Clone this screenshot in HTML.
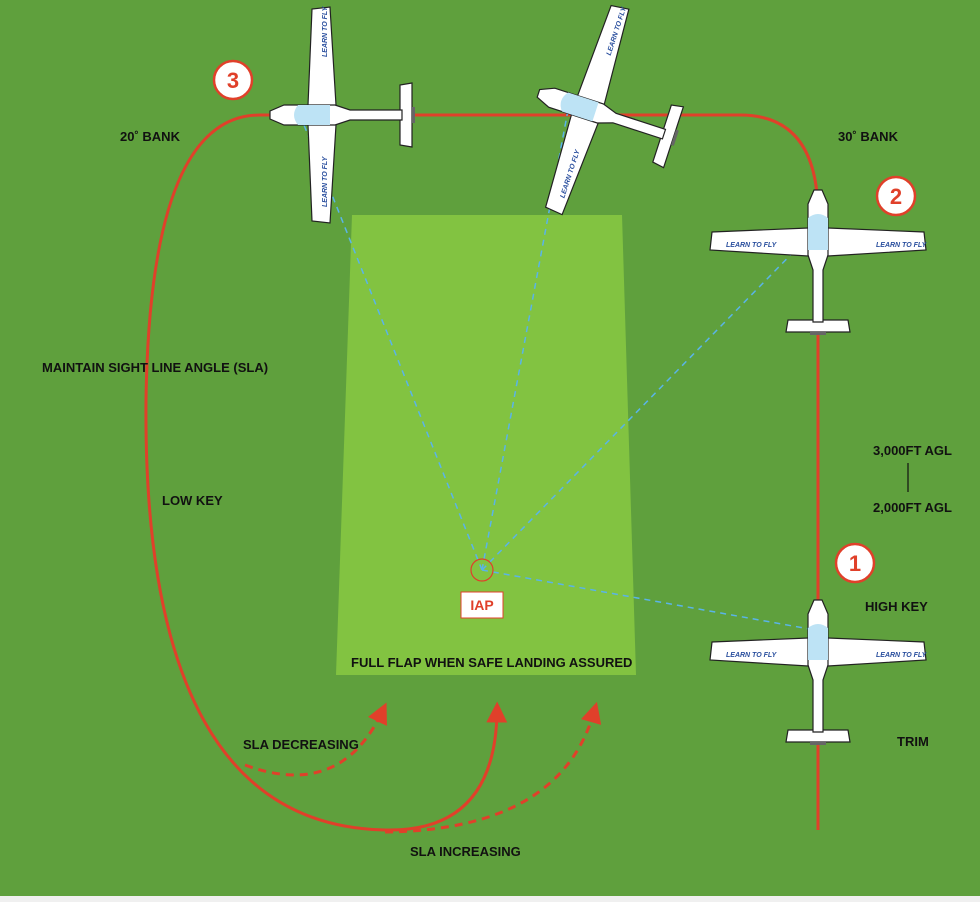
<!DOCTYPE html>
<html><head><style>
body{margin:0;background:#f0f0f0}
svg{display:block}
text{font-family:"Liberation Sans",sans-serif;font-weight:bold;font-size:13px;fill:#111}
</style></head><body>
<svg width="980" height="902" viewBox="0 0 980 902" xmlns="http://www.w3.org/2000/svg">
<defs>
<marker id="ah" markerWidth="7" markerHeight="7" refX="3.5" refY="3.5" orient="auto" markerUnits="strokeWidth">
<path d="M0,0 L7,3.5 L0,7 z" fill="#e0402a"/></marker>
<g id="plane">
<path d="M-106,-28 L-10,-32 L10,-32 L106,-28 L108,-10 L10,-4 L-10,-4 L-108,-10 Z" fill="#fff" stroke="#222" stroke-width="1.2"/>
<path d="M-30,60 L30,60 L32,72 L-32,72 Z" fill="#fff" stroke="#222" stroke-width="1.2"/>
<rect x="-8" y="72" width="16" height="3" fill="#666"/>
<path d="M-4,-70 L4,-70 L10,-56 L10,-5 L5,10 L5,62 L-5,62 L-5,10 L-10,-5 L-10,-56 Z" fill="#fff" stroke="#222" stroke-width="1.2"/>
<path d="M-10,-42 Q0,-50 10,-42 L10,-10 L-10,-10 Z" fill="#bde3f5"/>
<text x="-92" y="-13" style="font-size:7px;fill:#2a4f9e;font-style:italic">LEARN TO FLY</text>
<text x="58" y="-13" style="font-size:7px;fill:#2a4f9e;font-style:italic">LEARN TO FLY</text>
</g>
</defs>
<rect width="980" height="896" fill="#5fa03d"/>
<polygon points="352,215 622,215 636,675 336,675" fill="#82c341"/>
<g stroke="#e0402a" stroke-width="3" fill="none">
<path d="M818,830 L818,215 Q818,115 740,115 L260,115 Q150,115 146,400 Q142,830 390,830 Q495,830 497,712" marker-end="url(#ah)"/>
<path d="M245,765 Q340,800 382,712" stroke-dasharray="8,6" marker-end="url(#ah)"/>
<path d="M385,832 Q560,830 594,712" stroke-dasharray="8,6" marker-end="url(#ah)"/>
</g>
<g stroke="#5ab4e8" stroke-width="1.5" stroke-dasharray="6,5" fill="none">
<line x1="482" y1="570" x2="300" y2="115"/>
<line x1="482" y1="570" x2="568" y2="110"/>
<line x1="482" y1="570" x2="815" y2="230"/>
<line x1="482" y1="570" x2="815" y2="630"/>
</g>
<circle cx="482" cy="570" r="11" fill="none" stroke="#e0402a" stroke-width="1.2"/>
<rect x="461" y="592" width="42" height="26" fill="#fff" stroke="#e0402a"/>
<text x="482" y="610" text-anchor="middle" style="fill:#e0402a;font-size:14px">IAP</text>
<use href="#plane" transform="translate(818,260)"/>
<use href="#plane" transform="translate(818,670)"/>
<use href="#plane" transform="translate(340,115) rotate(-90)"/>
<use href="#plane" transform="translate(605,115) rotate(-72)"/>
<g fill="#fff" stroke="#e0402a" stroke-width="2.5">
<circle cx="233" cy="80" r="19"/><circle cx="896" cy="196" r="19"/><circle cx="855" cy="563" r="19"/>
</g>
<text x="233" y="88" text-anchor="middle" style="fill:#e0402a;font-size:22px">3</text>
<text x="896" y="204" text-anchor="middle" style="fill:#e0402a;font-size:22px">2</text>
<text x="855" y="571" text-anchor="middle" style="fill:#e0402a;font-size:22px">1</text>
<text x="120" y="141">20˚ BANK</text>
<text x="838" y="141">30˚ BANK</text>
<text x="42" y="372">MAINTAIN SIGHT LINE ANGLE (SLA)</text>
<text x="162" y="505">LOW KEY</text>
<text x="873" y="455">3,000FT AGL</text>
<line x1="908" y1="463" x2="908" y2="492" stroke="#111" stroke-width="1.2"/>
<text x="873" y="512">2,000FT AGL</text>
<text x="865" y="611">HIGH KEY</text>
<text x="897" y="746">TRIM</text>
<text x="351" y="667">FULL FLAP WHEN SAFE LANDING ASSURED</text>
<text x="243" y="749">SLA DECREASING</text>
<text x="410" y="856">SLA INCREASING</text>
</svg>
</body></html>
